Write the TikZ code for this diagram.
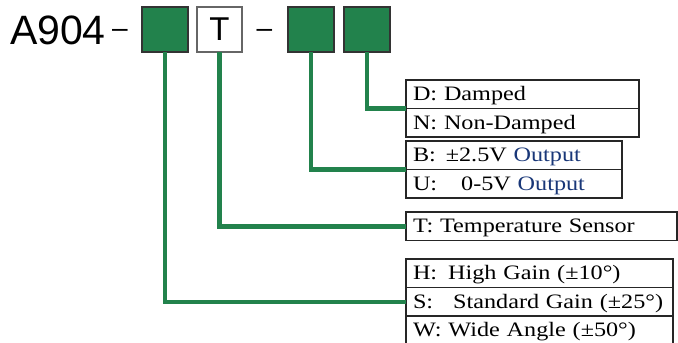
\documentclass[tikz,border=0pt]{standalone}
\usepackage{fontspec}
\usetikzlibrary{positioning}
\newfontfamily\headfont{Liberation Sans}
\newfontfamily\optfont[FakeStretch=1.18]{Liberation Serif}
\definecolor{codegreen}{RGB}{34,130,76}
\definecolor{outblue}{RGB}{25,55,120}

\begin{document}
\begin{tikzpicture}[
    x=1pt, y=-1pt,
    code/.style={draw=black!80, line width=1.2pt, fill=codegreen, minimum width=46pt, minimum height=45pt, inner sep=0pt, outer sep=0pt},
    fixed/.style={draw=black!60, line width=1.2pt, fill=white, minimum width=45pt, minimum height=45pt, inner sep=0pt, outer sep=0pt, font=\headfont\fontsize{33}{33}\selectfont},
    head/.style={inner sep=0pt, outer sep=0pt, font=\headfont\fontsize{#1}{#1}\selectfont},
    optrow/.style={draw=black!85, line width=1.2pt, anchor=north west, inner xsep=7pt, inner ysep=0pt, outer sep=0pt, text width=#1, align=left, minimum height=28.5pt, text height=16pt, text depth=3pt, font=\optfont\fontsize{20.5}{24}\selectfont},
    link/.style={draw=codegreen, line width=4.5pt}
]
\useasboundingbox (0,0) rectangle (678,343);

% part number
\node[head=41, anchor=base west] (model) at (10,44) {A904};
\node[head=28, anchor=base] (dash1) at (120,37.5) {–};
\node[code] (g1) at (165,29.5) {};
\node[fixed, right=9pt of g1] (t) {T};
\node[head=28, anchor=base] (dash2) at (264.5,37.5) {–};
\node[code, right=46pt of t] (g3) {};
\node[code, right=10pt of g3] (g4) {};

% option tables
\node[optrow=219pt] (d) at (406,80) {D: Damped};
\node[optrow=219pt, below=0pt of d] (n) {N: Non-Damped};

\node[optrow=202pt] (b) at (406,141) {B:\hspace{10pt}±2.5V \textcolor{outblue}{Output}};
\node[optrow=202pt, below=0pt of b] (u) {U:\hspace{24pt}0-5V \textcolor{outblue}{Output}};

\node[optrow=257pt] (temp) at (406,212) {T: Temperature Sensor};

\node[optrow=253pt] (h) at (406,259) {H:\hspace{11pt}High Gain (±10°)};
\node[optrow=253pt, below=0pt of h] (s) {S:\hspace{20pt}Standard Gain (±25°)};
\node[optrow=253pt, below=0pt of s] (w) {W: Wide Angle (±50°)};

% connectors
\draw[link] (g4.south) |- (d.south west);
\draw[link] (g3.south) |- (b.south west);
\draw[link] (t.south) |- (temp.west);
\draw[link] (g1.south) |- (s.west);

\end{tikzpicture}
\end{document}
